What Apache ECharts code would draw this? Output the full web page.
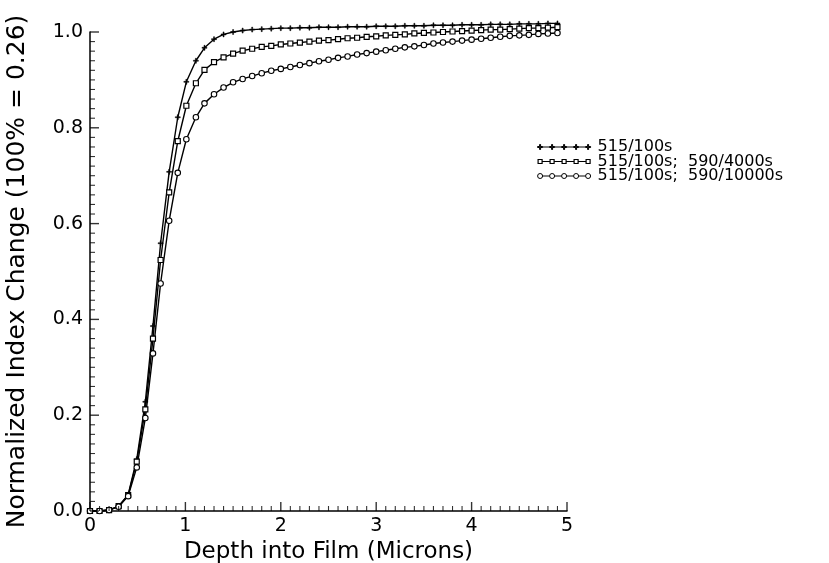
<!DOCTYPE html>
<html>
<head>
<meta charset="utf-8">
<script src="https://cdn.jsdelivr.net/npm/echarts@6/dist/echarts.min.js"></script>
<style>html,body{margin:0;padding:0;background:#fff}</style>
</head>
<body>
<div id="c" style="width:829px;height:563px"></div>
<script>
// Depth into film (microns)
var depth = [0,0.1,0.2,0.3,0.4,0.49,0.58,0.66,0.74,0.83,0.92,1.01,1.11,1.2,1.3,1.4,1.5,1.6,1.7,1.8,1.9,
  2.0,2.1,2.2,2.3,2.4,2.5,2.6,2.7,2.8,2.9,3.0,3.1,3.2,3.3,3.4,3.5,3.6,3.7,3.8,3.9,
  4.0,4.1,4.2,4.3,4.4,4.5,4.6,4.7,4.8,4.9];
var seriesNames = ['515/100s', '515/100s;  590/4000s', '515/100s;  590/10000s'];
var s515 = [0,0,0.002,0.010,0.034,0.108,0.228,0.386,0.559,0.708,0.822,0.896,0.940,0.967,0.985,0.995,1.000,1.003,1.005,1.006,1.007,
  1.008,1.008,1.009,1.009,1.010,1.010,1.010,1.011,1.011,1.011,1.012,1.012,1.012,1.013,1.013,1.013,1.014,1.014,1.014,1.015,
  1.015,1.015,1.016,1.016,1.016,1.017,1.017,1.017,1.018,1.018];
var s4000 = [0,0,0.002,0.010,0.033,0.103,0.212,0.360,0.524,0.665,0.772,0.846,0.893,0.921,0.937,0.947,0.955,0.961,0.965,0.969,0.971,
  0.974,0.976,0.978,0.980,0.982,0.983,0.985,0.987,0.988,0.990,0.991,0.993,0.994,0.995,0.997,0.998,0.999,1.000,1.001,1.002,
  1.003,1.004,1.005,1.005,1.006,1.007,1.008,1.008,1.009,1.010];
var s10000 = [0,0,0.002,0.009,0.031,0.091,0.194,0.329,0.475,0.606,0.706,0.776,0.822,0.851,0.870,0.884,0.895,0.902,0.908,0.914,0.919,
  0.923,0.927,0.931,0.935,0.939,0.942,0.946,0.949,0.953,0.956,0.959,0.962,0.965,0.968,0.970,0.973,0.976,0.978,0.980,0.982,
  0.984,0.986,0.988,0.990,0.992,0.993,0.994,0.996,0.997,0.998];
var xTicks = [0,1,2,3,4,5];
var yTicks = [0,0.2,0.4,0.6,0.8,1.0];
var xMinorPerMajor = 10;
var yMinorPerMajor = 10;

function pairs(vals){ return depth.map(function(d,i){ return [d, vals[i]]; }); }

// Tick mark positions along the axes (built from the tick lists above)
var xMajorMarks = xTicks.map(function(v){ return [v, yTicks[0]]; });
var yMajorMarks = yTicks.map(function(v){ return [xTicks[0], v]; });
var xMinorMarks = [], yMinorMarks = [];
for (var i = 0; i < xTicks.length - 1; i++) {
  for (var k = 1; k < xMinorPerMajor; k++) {
    xMinorMarks.push([xTicks[i] + (xTicks[i+1] - xTicks[i]) * k / xMinorPerMajor, yTicks[0]]);
  }
}
for (var j = 0; j < yTicks.length - 1; j++) {
  for (var m = 1; m < yMinorPerMajor; m++) {
    yMinorMarks.push([xTicks[0], yTicks[j] + (yTicks[j+1] - yTicks[j]) * m / yMinorPerMajor]);
  }
}

var FONT = 'DejaVu Sans';
var plusPath = 'path://M2,0h1v2h2v1h-2v2h-1v-2h-2v-1h2z';
var legPlus = 'path://M2,0h1v2h2v1h-2v2h-1v-2h-2v-1h2zM5,2.5L12,2.5M14,0h1v2h2v1h-2v2h-1v-2h-2v-1h2zM17,2.5L24,2.5M26,0h1v2h2v1h-2v2h-1v-2h-2v-1h2zM29,2.5L36,2.5M38,0h1v2h2v1h-2v2h-1v-2h-2v-1h2zM41,2.5L48,2.5M50,0h1v2h2v1h-2v2h-1v-2h-2v-1h2z';
var legSq = 'path://M0.5,0.5h4v4h-4zM4.5,2.5L12.5,2.5M12.5,0.5h4v4h-4zM16.5,2.5L24.5,2.5M24.5,0.5h4v4h-4zM28.5,2.5L36.5,2.5M36.5,0.5h4v4h-4zM40.5,2.5L48.5,2.5M48.5,0.5h4v4h-4zM0,0M53,5';
var legCirc = 'path://M0,2.5a2.5,2.5 0 1,0 5,0a2.5,2.5 0 1,0 -5,0zM5,2.5L12,2.5M12,2.5a2.5,2.5 0 1,0 5,0a2.5,2.5 0 1,0 -5,0zM17,2.5L24,2.5M24,2.5a2.5,2.5 0 1,0 5,0a2.5,2.5 0 1,0 -5,0zM29,2.5L36,2.5M36,2.5a2.5,2.5 0 1,0 5,0a2.5,2.5 0 1,0 -5,0zM41,2.5L48,2.5M48,2.5a2.5,2.5 0 1,0 5,0a2.5,2.5 0 1,0 -5,0z';

function tickSeries(name, data, size, offset){
  return {name: name, type: 'scatter', data: data, clip: false, silent: true, z: 5,
    symbol: 'rect', symbolSize: size, symbolOffset: offset,
    itemStyle: {color: '#000', borderWidth: 0}};
}

var chart = echarts.init(document.getElementById('c'));
chart.setOption({
  animation: false,
  grid: {left: 90, right: 262, top: 32, bottom: 52, outerBoundsMode: 'none'},
  legend: {
    left: 537, top: 139, orient: 'vertical', padding: 0, itemWidth: 53, itemHeight: 5, itemGap: -1.5,
    textStyle: {fontFamily: FONT, fontSize: 16, color: '#000', lineHeight: 13.5, padding: [0,0,0,2]},
    data: [
      {name: seriesNames[0], icon: legPlus, itemStyle: {color: '#000', borderColor: '#000', borderWidth: 1}},
      {name: seriesNames[1], icon: legSq, itemStyle: {color: '#fff', borderColor: '#000', borderWidth: 1.2}},
      {name: seriesNames[2], icon: legCirc, itemStyle: {color: '#fff', borderColor: '#000', borderWidth: 1}}
    ]
  },
  xAxis: {
    type: 'value', min: xTicks[0], max: xTicks[xTicks.length-1], interval: 1,
    name: 'Depth into Film (Microns)', nameLocation: 'middle', nameGap: 28,
    nameTextStyle: {fontFamily: FONT, fontSize: 23, color: '#000'},
    axisLine: {show: true, lineStyle: {color: '#000', width: 1.5}},
    axisTick: {show: false},
    axisLabel: {fontFamily: FONT, fontSize: 19, color: '#000', margin: 6},
    splitLine: {show: false}
  },
  yAxis: {
    type: 'value', min: yTicks[0], max: yTicks[yTicks.length-1], interval: 0.2,
    name: 'Normalized Index Change (100% = 0.26)', nameLocation: 'middle', nameGap: 60,
    nameTextStyle: {fontFamily: FONT, fontSize: 25, color: '#000'},
    axisLine: {show: true, lineStyle: {color: '#000', width: 1.5}},
    axisTick: {show: false},
    axisLabel: {fontFamily: FONT, fontSize: 19, color: '#000', margin: 7,
      formatter: function(v){ return v.toFixed(1); }},
    splitLine: {show: false}
  },
  series: [
    {name: seriesNames[0], type: 'line', data: pairs(s515), clip: false, z: 3,
      symbol: plusPath, symbolSize: 5, showAllSymbol: true,
      lineStyle: {color: '#000', width: 1.4}, itemStyle: {color: '#000', borderColor: '#000', borderWidth: 0.5}},
    {name: seriesNames[1], type: 'line', data: pairs(s4000), clip: false, z: 3,
      symbol: 'rect', symbolSize: 5, showAllSymbol: true,
      lineStyle: {color: '#000', width: 1.4}, itemStyle: {color: '#fff', borderColor: '#000', borderWidth: 1.2}},
    {name: seriesNames[2], type: 'line', data: pairs(s10000), clip: false, z: 3,
      symbol: 'circle', symbolSize: 5.5, showAllSymbol: true,
      lineStyle: {color: '#000', width: 1.4}, itemStyle: {color: '#fff', borderColor: '#000', borderWidth: 1.1}},
    tickSeries('xMajorTicks', xMajorMarks, [1.4, 9], [0, -4.5]),
    tickSeries('xMinorTicks', xMinorMarks, [1.1, 5], [0, -2.5]),
    tickSeries('yMajorTicks', yMajorMarks, [9, 1.4], [4.5, 0]),
    tickSeries('yMinorTicks', yMinorMarks, [5, 1.1], [2.5, 0])
  ]
});
</script>
</body>
</html>
